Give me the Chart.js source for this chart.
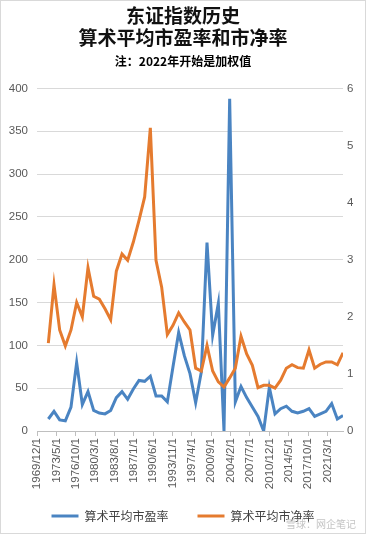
<!DOCTYPE html>
<html>
<head>
<meta charset="utf-8">
<script src="https://cdn.jsdelivr.net/npm/chart.js@4.4.1/dist/chart.umd.min.js"></script>
<style>
  html, body { margin: 0; padding: 0; background: #fff; }
  #wrap { position: relative; width: 366px; height: 534px; }
  #frame { position: absolute; left: 0; top: 0; width: 366px; height: 534px; box-sizing: border-box; border: 1px solid #d9d9d9; pointer-events: none; }
  #mark { position: absolute; right: 10px; bottom: 3px; font: 10px "Noto Sans CJK SC"; color: #c4c4c4; }
</style>
</head>
<body>
<div id="wrap">
  <canvas id="chart" width="366" height="534"></canvas>
  <div id="frame"></div>
  <div id="mark">雪球：网企笔记</div>
</div>
<script>
// year-end points, 1971..2023
var years = [1971, 1972, 1973, 1974, 1975, 1976, 1977, 1978, 1979, 1980,
             1981, 1982, 1983, 1984, 1985, 1986, 1987, 1988, 1989, 1990,
             1991, 1992, 1993, 1994, 1995, 1996, 1997, 1998, 1999, 2000,
             2001, 2002, 2003, 2004, 2005, 2006, 2007, 2008, 2009, 2010,
             2011, 2012, 2013, 2014, 2015, 2016, 2017, 2018, 2019, 2020,
             2021, 2022, 2023];
// 算术平均市盈率 (left axis)
var peValues = [14, 23, 13, 12, 28, 80, 31, 46, 24, 21,
                20, 24, 39, 46, 37, 49, 59, 58, 64, 41,
                41, 34, 75, 115, 88, 67, 33, 69, 220, 112,
                149, 0, 388, 34, 52, 39, 28, 17, 0, 51,
                20, 26, 29, 23, 21, 23, 26, 17, 20, 23,
                32, 14, 18];
// 算术平均市净率 (right axis)
var pbValues = [1.54, 2.56, 1.77, 1.49, 1.77, 2.25, 2.0, 2.86, 2.36, 2.31,
                2.14, 1.95, 2.80, 3.10, 2.99, 3.31, 3.69, 4.10, 5.31, 2.99,
                2.52, 1.69, 1.85, 2.07, 1.91, 1.77, 1.10, 1.05, 1.50, 1.05,
                0.86, 0.77, 0.93, 1.10, 1.66, 1.35, 1.15, 0.76, 0.80, 0.80,
                0.75, 0.89, 1.10, 1.16, 1.11, 1.10, 1.42, 1.10, 1.17, 1.21,
                1.21, 1.16, 1.37];
var tickLabels = ['1969/12/1', '1973/5/1', '1976/10/1', '1980/3/1', '1983/8/1',
                  '1987/1/1', '1990/6/1', '1993/11/1', '1997/4/1', '2000/9/1',
                  '2004/2/1', '2007/7/1', '2010/12/1', '2014/5/1', '2017/10/1',
                  '2021/3/1'];

function monthIndex(y, m) {
    return (y - 1969) * 12 + (m - 12);
}
function labelIndex(s) {
    var p = s.split('/');
    return monthIndex(+p[0], +p[1]);
}

var pePoints = years.map(function (y, i) { return { x: monthIndex(y, 12), y: peValues[i] }; });
var pbPoints = years.map(function (y, i) { return { x: monthIndex(y, 12), y: pbValues[i] }; });
var tickPositions = tickLabels.map(labelIndex);

var blue = '#4a84c2';
var orange = '#e57b2f';
var tickFont = { family: '"Liberation Sans", Arial, sans-serif', size: 11.5 };
var grey = '#595959';

var ctx = document.getElementById('chart').getContext('2d');
var chart = new Chart(ctx, {
    type: 'line',
    data: {
        datasets: [
            {
                label: '算术平均市盈率',
                data: pePoints,
                borderColor: blue,
                backgroundColor: blue,
                borderWidth: 3,
                pointRadius: 0,
                tension: 0,
                yAxisID: 'a',
                order: 2
            },
            {
                label: '算术平均市净率',
                data: pbPoints,
                borderColor: orange,
                backgroundColor: orange,
                borderWidth: 3,
                pointRadius: 0,
                tension: 0,
                yAxisID: 'b',
                order: 1
            }
        ]
    },
    options: {
        responsive: false,
        animation: false,
        devicePixelRatio: 1,
        layout: { padding: { left: 0, right: 0, top: 0, bottom: 2 } },
        plugins: {
            tooltip: { enabled: false },
            title: {
                display: true,
                text: ['东证指数历史', '算术平均市盈率和市净率'],
                color: '#111',
                font: { family: '"Noto Sans CJK SC", sans-serif', size: 19, weight: 'bold', lineHeight: 1.16 },
                padding: { top: 5, bottom: 2 }
            },
            subtitle: {
                display: true,
                text: '注：2022年开始是加权值',
                color: '#000',
                font: { family: '"Noto Sans CJK SC", sans-serif', size: 12, weight: 'bold', lineHeight: 1.2 },
                padding: { top: 3, bottom: 20 }
            },
            legend: {
                position: 'bottom',
                labels: {
                    usePointStyle: true,
                    pointStyle: 'line',
                    pointStyleWidth: 27,
                    padding: 29,
                    color: '#404040',
                    font: { family: '"Noto Sans CJK SC", sans-serif', size: 12 },
                    sort: function (a, b) { return a.datasetIndex - b.datasetIndex; }
                }
            }
        },
        scales: {
            x: {
                type: 'linear',
                min: 0,
                max: monthIndex(2023, 12),
                afterBuildTicks: function (axis) {
                    axis.ticks = tickPositions.map(function (v) { return { value: v }; });
                },
                afterFit: function (axis) {
                    axis.height = 50;
                    // long rotated labels run into the legend box, don't clip them
                    axis._computeLabelArea = function () { return undefined; };
                },
                ticks: {
                    autoSkip: false,
                    minRotation: 90,
                    maxRotation: 90,
                    padding: 2,
                    color: grey,
                    font: tickFont,
                    callback: function (value) {
                        var k = tickPositions.indexOf(value);
                        return k >= 0 ? tickLabels[k] : '';
                    }
                },
                grid: { drawOnChartArea: false, drawTicks: true, tickLength: 5, color: '#bfbfbf' },
                border: { display: true, color: '#bfbfbf' }
            },
            a: {
                position: 'left',
                min: 0,
                max: 400,
                afterFit: function (axis) { axis.width = 37; },
                ticks: { stepSize: 50, padding: 9, color: grey, font: tickFont },
                grid: { color: '#d9d9d9', drawTicks: false },
                border: { display: false }
            },
            b: {
                position: 'right',
                min: 0,
                max: 6,
                afterFit: function (axis) { axis.width = 23; },
                ticks: { stepSize: 1, padding: 4, color: grey, font: tickFont },
                grid: { drawOnChartArea: false, drawTicks: false },
                border: { display: false }
            }
        }
    }
});
</script>
</body>
</html>
